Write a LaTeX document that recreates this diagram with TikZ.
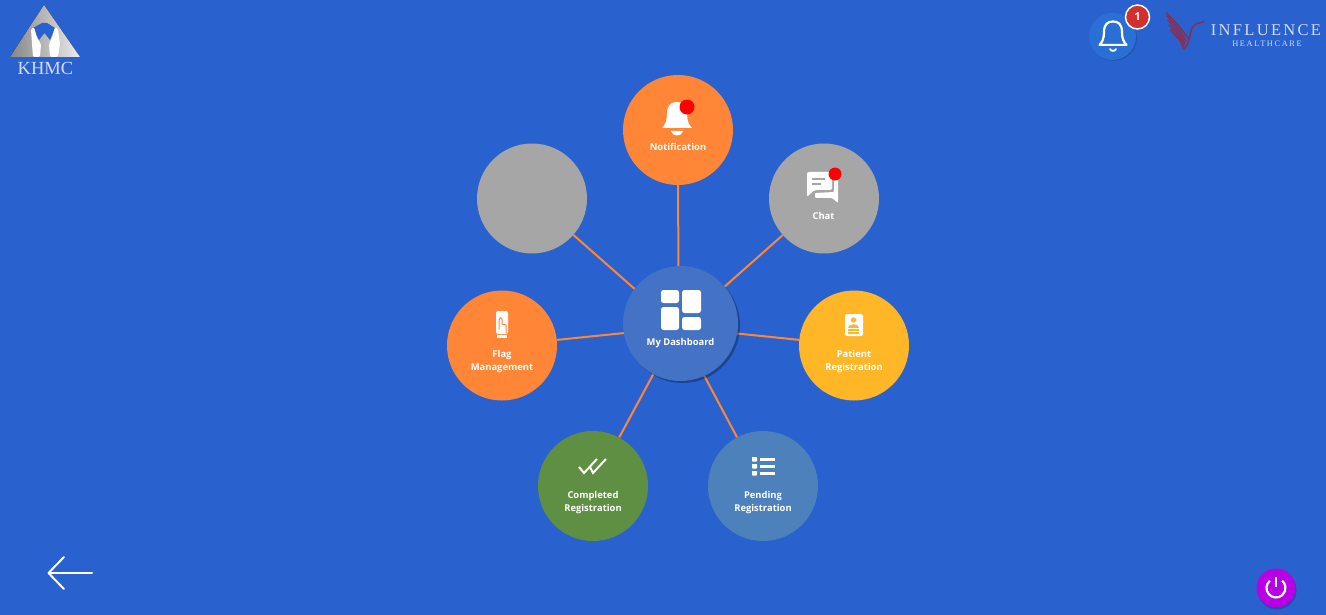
\documentclass[tikz,border=0pt]{standalone}
\usepackage{fontspec}
\setmainfont{Open Sans}
\newfontfamily\logofont[LetterSpace=14]{Liberation Serif}
\newfontfamily\logosmall[LetterSpace=20]{Liberation Serif}
\newfontfamily\khmcfont{Liberation Serif}
\usetikzlibrary{positioning, backgrounds, shadows, calc}
\definecolor{bgblue}{HTML}{2962CE}
\definecolor{hubblue}{HTML}{4472C4}
\definecolor{btnblue}{HTML}{2A6FD6}
\definecolor{linkorange}{HTML}{FF8636}
\definecolor{satgrey}{HTML}{A6A6A6}
\definecolor{satyellow}{HTML}{FFB727}
\definecolor{satgreen}{HTML}{5F8F42}
\definecolor{satsteel}{HTML}{4C81BB}
\definecolor{powerpurple}{HTML}{B700E4}
\definecolor{dotred}{HTML}{FF0000}
\definecolor{badgered}{HTML}{D32F2F}
\definecolor{birdred}{HTML}{8C2C4E}
\definecolor{logotext}{HTML}{D3DCF2}
\tikzset{bellbody/.pic={
  \path[pic actions] (-10,12) .. controls (-10,3) and (-6,0) .. (0,0) .. controls (6,0) and (10,3) .. (10,12)
    .. controls (10,19) and (12,23) .. (15,26) -- (-15,26) .. controls (-12,23) and (-10,19) .. (-10,12) -- cycle;
}}
\begin{document}
\begin{tikzpicture}[x=1pt, y=-1pt, font=\fontsize{9.4}{13}\selectfont\bfseries,
  sat/.style={circle, minimum size=110pt, inner sep=0pt},
  hub/.style={circle, minimum size=115pt, inner sep=0pt, fill=hubblue,
    general shadow={shadow xshift=2pt, shadow yshift=-2pt, fill=black, opacity=0.3}},
  lbl/.style={text=white, align=center, inner sep=0pt},
  link/.style={draw=linkorange, line width=2pt},
  dot/.style={circle, fill=dotred, inner sep=0pt},
  wing/.style={draw=birdred, line width=1.5pt, line cap=round}]
  \useasboundingbox (0,0) rectangle (1326,615);

  \node[hub] (dash) at (680.5,323.5) {};
  \node[sat, fill=linkorange] (note) at (678,130) {};
  \node[sat, fill=satgrey] (chat) at (824,198.5) {};
  \node[sat, fill=satgrey] (blank) at (532,198.5) {};
  \node[sat, fill=linkorange] (flag) at (502,345.5) {};
  \node[sat, fill=satyellow] (patient) at (854,345.5) {};
  \node[sat, fill=satgreen] (done) at (593,486) {};
  \node[sat, fill=satsteel] (pending) at (763,486) {};

  \begin{scope}[on background layer]
    \fill[bgblue] (0,0) rectangle (1326,615);
    \foreach \n in {note,chat,blank,flag,patient,done,pending}
      \draw[link] ([xshift=-2pt, yshift=-4pt]dash.center) -- (\n);
  \end{scope}

  \node[lbl] (dashlbl) at (680.5,343.5) {My Dashboard};
  \node[lbl] (notelbl) at (678,147) {Notification};
  \node[lbl] (chatlbl) at (823.5,216) {Chat};
  \node[lbl] (flaglbl) at (502,362) {Flag\\Management};
  \node[lbl] (patientlbl) at (854,362) {Patient\\Registration};
  \node[lbl] (donelbl) at (593,503) {Completed\\Registration};
  \node[lbl] (pendinglbl) at (763,503) {Pending\\Registration};

  \fill[white, rounded corners=2.5pt] (661,290) rectangle (679,303);
  \fill[white, rounded corners=2.5pt] (661,307) rectangle (679,330);
  \fill[white, rounded corners=2.5pt] (682,290) rectangle (701,313);
  \fill[white, rounded corners=2.5pt] (682,317) rectangle (701,330);

  \pic[fill=white] at (677,102) {bellbody};
  \fill[white] (671,131) -- (683,131) .. controls (682,137) and (672,137) .. (671,131) -- cycle;
  \node[dot, minimum size=15pt] (notedot) at (687,107) {};

  \fill[white, rounded corners=2pt] (807,172) -- (832,172) -- (832,190) -- (814,190) -- (807,197) -- cycle;
  \draw[satgrey, line width=1.2pt] (812,179) -- (825,179) (812,184) -- (821,184);
  \fill[white, rounded corners=1pt] (834,180) -- (838,180) -- (838,203) -- (832,198) -- (815,198) -- (815,193) -- (834,192) -- cycle;
  \node[dot, minimum size=13pt] (chatdot) at (835,174) {};

  \fill[white, rounded corners=2pt] (496,311) rectangle (508,334);
  \fill[white] (497,335) rectangle (507,338);
  \draw[linkorange, line width=1pt, line cap=round] (499,329) -- (499,320) .. controls (500,317) and (502,317) .. (502,320) -- (502,324) -- (506,325) -- (506,333);
  \fill[white, rounded corners=2pt] (845,314) rectangle (863,336);
  \fill[satyellow] (853.5,320) circle (2.7);
  \fill[satyellow] (848,328) .. controls (848,323) and (859,323) .. (859,328) -- cycle;
  \fill[satyellow] (848,329) rectangle (859,334);
  \draw[white, line width=0.7pt] (848,331) -- (859,331);

  \draw[white, line width=2pt] (579,467) -- (584,473) -- (597,459);
  \draw[white, line width=2pt] (590,467) -- (593,473) -- (606,459);

  \foreach \ly in {459,466,473} {
    \fill[white, rounded corners=0.7pt] (752,\ly-2) rectangle (757,\ly+2.5);
    \fill[white] (760,\ly-1.2) rectangle (775,\ly+1.5);
  }

  \node[circle, minimum size=47pt, inner sep=0pt, fill=btnblue,
    general shadow={shadow xshift=1pt, shadow yshift=-1pt, fill=black, opacity=0.15}] (bellbtn) at (1112.5,36.5) {};
  \pic[draw=white, line width=2.2pt, line join=round, scale=0.9] at (1113,21.5) {bellbody};
  \draw[white, line width=1.8pt, line cap=round] (1110,49) .. controls (1111,51.5) and (1115,51.5) .. (1116,49);
  \node[circle, minimum size=24pt, inner sep=0pt, fill=badgered, draw=white, line width=1.5pt,
    text=white, font=\fontsize{11}{11}\selectfont\bfseries] (badge) at (1137.5,17) {1};

  \foreach \ya/\yb/\xb/\yc in {13/20/1188/40,16/24/1186/43,20/28/1185/46,25/32/1184/48,30/36/1183/50}
    \draw[wing] (1163+\ya/4,\ya) .. controls (1175,\yb) and (1183,\yc-8) .. (\xb,\yc-2);
  \draw[wing] (1184,49) .. controls (1192,42) and (1188,28) .. (1196,24) -- (1204,21.5);
  \node[inner sep=0pt, text=logotext, font=\logofont\fontsize{16.5}{17}\selectfont] (inftext) at (1266,30.5) {INFLUENCE};
  \node[inner sep=0pt, text=logotext, font=\logosmall\fontsize{8.3}{9}\selectfont] (hctext) at (1267,44) {HEALTHCARE};

  \fill[left color=gray!95, right color=gray!15] (44,5) -- (80,57) -- (10,57) -- cycle;
  \fill[bgblue] (42,23) -- (47,23) -- (55,28) -- (50,40) -- (44.5,33) -- (39,40) -- (33,28) -- cycle;
  \fill[white, rounded corners=1.5pt] (31,29) -- (34,27) -- (37,38) -- (41,44) -- (40,57) -- (33,57) -- (32,44) -- cycle;
  \fill[white, rounded corners=1.5pt] (58,29) -- (55,27) -- (52,38) -- (49,44) -- (50,57) -- (58,57) -- (60,44) -- cycle;
  \node[inner sep=0pt, text=logotext, font=\khmcfont\fontsize{18.5}{19}\selectfont] (khmc) at (45.5,68.5) {KHMC};

  \draw[white, line width=2pt, line cap=round, line join=round] (64,557) -- (48.5,573) -- (64,589);
  \draw[white, line width=2pt, line cap=round] (48.5,573) -- (92,573);

  \node[circle, minimum size=39pt, inner sep=0pt, fill=powerpurple,
    general shadow={shadow xshift=1pt, shadow yshift=-2pt, fill=black, opacity=0.2}] (power) at (1276,588) {};
  \draw[white, line width=2.2pt] (1269.9,580.7) arc[start angle=130, end angle=410, radius=9.5pt];
  \draw[white, line width=2.2pt] (1276,577) -- (1276,587);
\end{tikzpicture}
\end{document}
